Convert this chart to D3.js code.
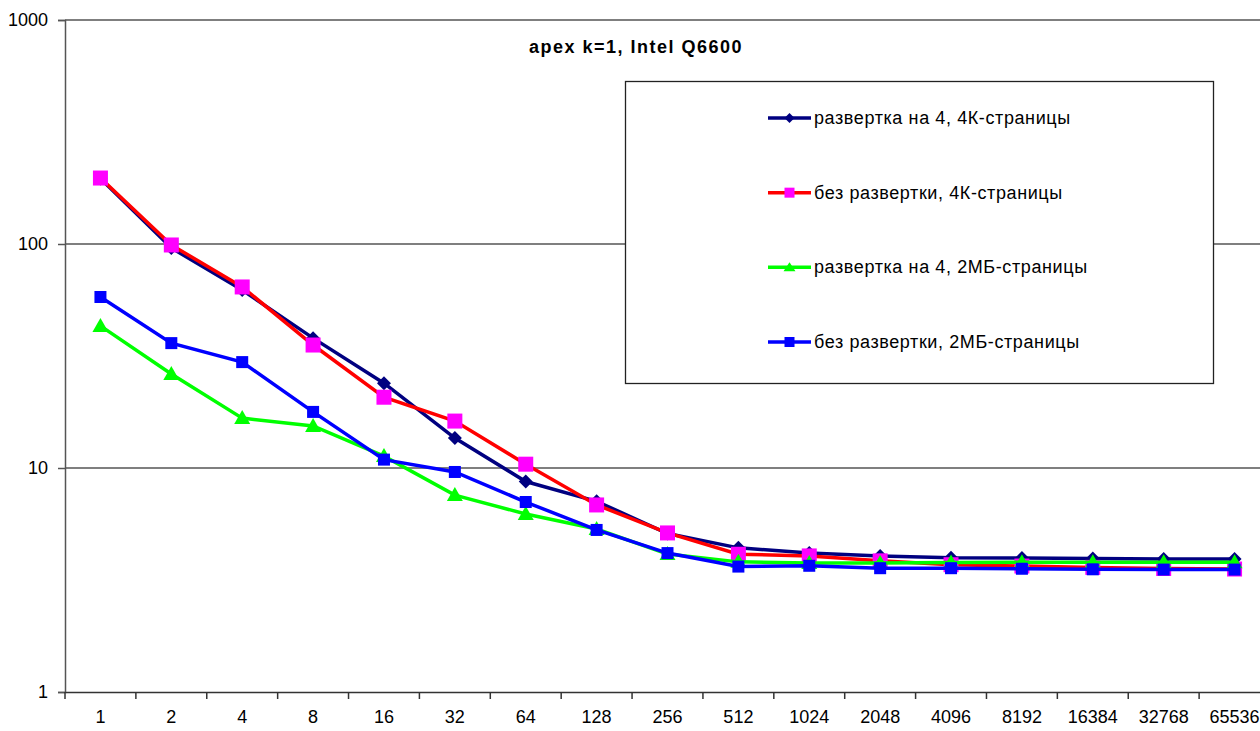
<!DOCTYPE html>
<html>
<head>
<meta charset="utf-8">
<script src="https://cdn.jsdelivr.net/npm/d3@7.9.0/dist/d3.min.js"></script>
<style>
  body { margin: 0; background: #fff; }
  svg { display: block; font-family: 'Liberation Sans', Arial, sans-serif; }
</style>
</head>
<body>
<svg id="chart" width="1260" height="731"></svg>
<script>
const categories = ['1', '2', '4', '8', '16', '32', '64', '128', '256', '512', '1024', '2048', '4096', '8192', '16384', '32768', '65536'];
const yTicks = [1, 10, 100, 1000];

const unroll4k = [196, 96, 62.3, 38, 23.9, 13.6, 8.7, 7.1, 5.1, 4.4, 4.17, 4.05, 3.97, 3.96, 3.94, 3.92, 3.92];
const noUnroll4k = [197, 99, 64.3, 35.4, 20.7, 16.2, 10.4, 6.84, 5.13, 4.12, 4.05, 3.85, 3.7, 3.65, 3.6, 3.56, 3.54];
const unroll2m = [43.1, 26.3, 16.7, 15.4, 11.3, 7.57, 6.23, 5.34, 4.13, 3.81, 3.77, 3.77, 3.79, 3.8, 3.8, 3.8, 3.8];
const noUnroll2m = [58, 36.1, 29.7, 17.8, 10.9, 9.6, 7.05, 5.29, 4.17, 3.63, 3.66, 3.57, 3.57, 3.55, 3.53, 3.52, 3.52];

const series = [
  { name: 'развертка на 4, 4К-страницы', values: unroll4k, line: '#000080', fill: '#000080', shape: 'diamond' },
  { name: 'без развертки, 4К-страницы', values: noUnroll4k, line: '#ff0000', fill: '#ff00ff', shape: 'bigSquare' },
  { name: 'развертка на 4, 2МБ-страницы', values: unroll2m, line: '#00ff00', fill: '#00ff00', shape: 'triangle' },
  { name: 'без развертки, 2МБ-страницы', values: noUnroll2m, line: '#0000ff', fill: '#0000ff', shape: 'square' },
];

const margin = { top: 20, left: 65, bottom: 692 };
const svg = d3.select('#chart');

const xScale = d3.scaleBand().domain(categories).range([margin.left, 1270]);
const yScale = d3.scaleLog().domain([1, 1000]).range([margin.bottom, margin.top]);

// gridlines
svg.append('g')
  .selectAll('line')
  .data(yTicks.filter((d) => d > 1))
  .join('line')
  .attr('x1', margin.left)
  .attr('x2', 1260)
  .attr('y1', (d) => yScale(d))
  .attr('y2', (d) => yScale(d))
  .attr('stroke', '#000')
  .attr('stroke-width', 1.2);

// y axis
const yAxis = svg.append('g')
  .attr('transform', `translate(${margin.left},0)`)
  .call(d3.axisLeft(yScale).tickValues(yTicks).tickFormat(d3.format('d')).tickSize(7).tickPadding(10));
yAxis.select('.domain').attr('stroke', '#555').attr('stroke-width', 1.5);
yAxis.selectAll('.tick line').attr('stroke', '#555').attr('stroke-width', 1.5);
yAxis.selectAll('text').attr('font-size', 18).attr('font-family', 'Liberation Sans').attr('fill', '#000');

// x axis
const xAxis = svg.append('g')
  .attr('transform', `translate(0,${margin.bottom})`)
  .call(d3.axisBottom(xScale).tickSize(0).tickPadding(18));
xAxis.select('.domain').attr('stroke', '#333').attr('stroke-width', 1.5);
xAxis.selectAll('text').attr('font-size', 18).attr('font-family', 'Liberation Sans').attr('fill', '#000');
svg.append('g')
  .selectAll('line')
  .data(categories)
  .join('line')
  .attr('x1', (d) => xScale(d))
  .attr('x2', (d) => xScale(d))
  .attr('y1', margin.bottom)
  .attr('y2', margin.bottom + 7)
  .attr('stroke', '#333')
  .attr('stroke-width', 1.5);

// title
svg.append('text')
  .attr('x', 636)
  .attr('y', 53)
  .attr('text-anchor', 'middle')
  .attr('font-weight', 'bold')
  .attr('font-size', 18)
  .attr('letter-spacing', 1.5)
  .text('apex k=1, Intel Q6600');

function drawMarker(g, shape, fill) {
  if (shape === 'diamond') {
    g.append('path').attr('d', 'M0,-7L7,0L0,7L-7,0Z').attr('fill', fill);
  } else if (shape === 'bigSquare') {
    g.append('rect').attr('x', -7.5).attr('y', -7.5).attr('width', 15).attr('height', 15).attr('fill', fill);
  } else if (shape === 'triangle') {
    g.append('path').attr('d', 'M0,-8L8,6L-8,6Z').attr('fill', fill);
  } else {
    g.append('rect').attr('x', -6).attr('y', -6).attr('width', 12).attr('height', 12).attr('fill', fill);
  }
}

const line = d3.line()
  .x((d, i) => xScale(categories[i]) + xScale.bandwidth() / 2)
  .y((d) => yScale(d));

for (const s of series) {
  const g = svg.append('g');
  g.append('path')
    .attr('d', line(s.values))
    .attr('fill', 'none')
    .attr('stroke', s.line)
    .attr('stroke-width', 3.5);
  g.selectAll('g.m')
    .data(s.values)
    .join('g')
    .attr('class', 'm')
    .attr('transform', (d, i) => `translate(${xScale(categories[i]) + xScale.bandwidth() / 2},${yScale(d)})`)
    .each(function () { drawMarker(d3.select(this), s.shape, s.fill); });
}

// legend
const legend = svg.append('g');
legend.append('rect')
  .attr('x', 625.5)
  .attr('y', 81.5)
  .attr('width', 588)
  .attr('height', 302)
  .attr('fill', '#fff')
  .attr('stroke', '#222')
  .attr('stroke-width', 1.3);

const legendY = d3.scalePoint().domain(series.map((s) => s.name)).range([118, 342]);

series.forEach((s) => {
  const y = legendY(s.name);
  const item = legend.append('g');
  item.append('line')
    .attr('x1', 768)
    .attr('x2', 811)
    .attr('y1', y)
    .attr('y2', y)
    .attr('stroke', s.line)
    .attr('stroke-width', 3.5);
  const m = item.append('g').attr('transform', `translate(789.5,${y})`);
  if (s.shape === 'diamond') {
    m.append('path').attr('d', 'M0,-5L5,0L0,5L-5,0Z').attr('fill', s.fill);
  } else if (s.shape === 'triangle') {
    m.append('path').attr('d', 'M0,-5L6,4L-6,4Z').attr('fill', s.fill);
  } else {
    m.append('rect').attr('x', -5).attr('y', -5).attr('width', 10).attr('height', 10).attr('fill', s.fill);
  }
  item.append('text')
    .attr('x', 814)
    .attr('y', y + 6)
    .attr('font-size', 18)
    .attr('letter-spacing', 0.6)
    .text(s.name);
});
</script>
</body>
</html>
